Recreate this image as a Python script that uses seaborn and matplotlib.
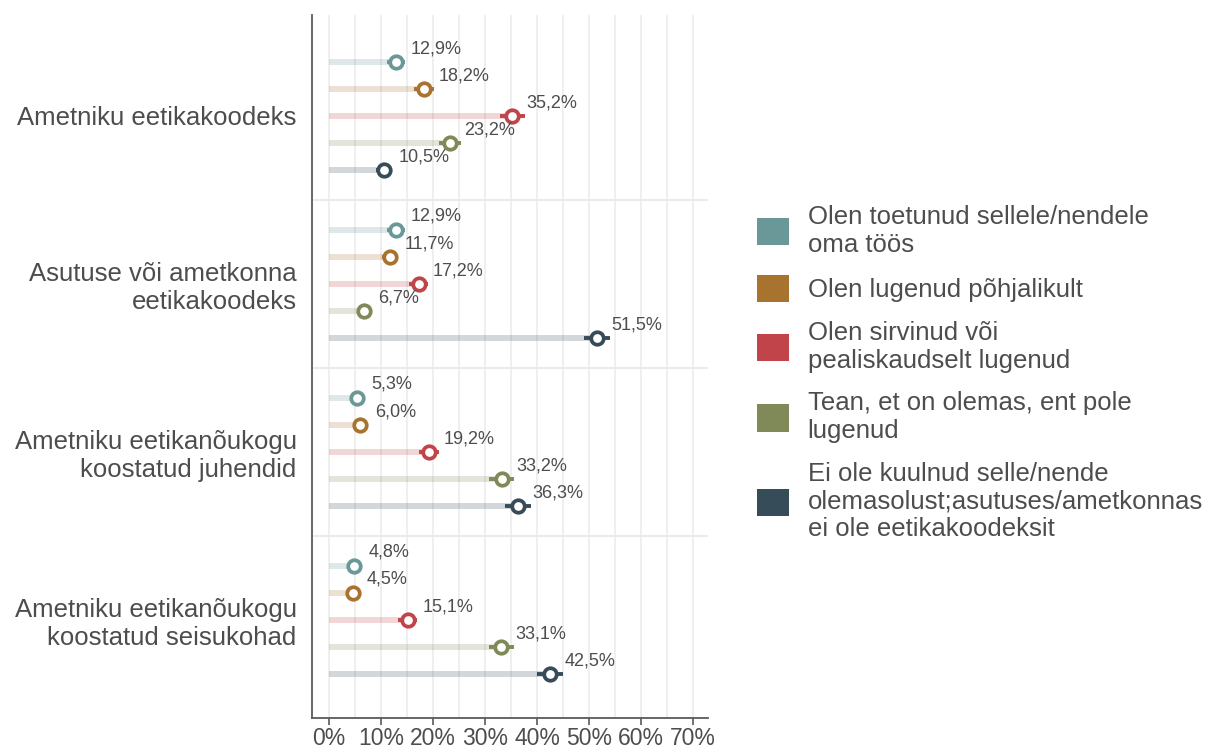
import matplotlib
matplotlib.use("Agg")
import matplotlib.pyplot as plt
import numpy as np
import pandas as pd
import seaborn as sns
from matplotlib.patches import Patch
from matplotlib.ticker import MultipleLocator, FuncFormatter

# Documents asked about
categories = [
    "Ametniku eetikakoodeks",
    "Asutuse või ametkonna\neetikakoodeks",
    "Ametniku eetikanõukogu\nkoostatud juhendid",
    "Ametniku eetikanõukogu\nkoostatud seisukohad",
]

# Answer options (legend entries)
series = [
    "Olen toetunud sellele/nendele\noma töös",
    "Olen lugenud põhjalikult",
    "Olen sirvinud või\npealiskaudselt lugenud",
    "Tean, et on olemas, ent pole\nlugenud",
    "Ei ole kuulnud selle/nende\nolemasolust;asutuses/ametkonnas\nei ole eetikakoodeksit",
]
colors = ["#6a9797", "#a8722f", "#c0444a", "#7f8a58", "#374c59"]

# Shares (%) per document, one list per answer option
toetunud = [12.9, 12.9, 5.3, 4.8]
lugenud = [18.2, 11.7, 6.0, 4.5]
sirvinud = [35.2, 17.2, 19.2, 15.1]
tean = [23.2, 6.7, 33.2, 33.1]
ei_kuulnud = [10.5, 51.5, 36.3, 42.5]

# Half-width of the 95% confidence interval (percentage points)
ci_toetunud = [1.7, 1.7, 1.15, 1.1]
ci_lugenud = [1.95, 1.6, 1.2, 1.05]
ci_sirvinud = [2.4, 1.9, 2.0, 1.8]
ci_tean = [2.1, 1.25, 2.4, 2.4]
ci_ei_kuulnud = [1.55, 2.5, 2.45, 2.5]

values = [toetunud, lugenud, sirvinud, tean, ei_kuulnud]
cis = [ci_toetunud, ci_lugenud, ci_sirvinud, ci_tean, ci_ei_kuulnud]

rows = []
for s, vals, errs in zip(series, values, cis):
    for c, v, e in zip(categories, vals, errs):
        rows.append({"category": c, "series": s, "value": v, "ci": e})
df = pd.DataFrame(rows)

sns.set_theme(style="white")
plt.rcParams["font.family"] = ["Liberation Sans", "DejaVu Sans"]
text_col = "#4d4d4d"

fig = plt.figure(figsize=(12.12, 7.49), dpi=100)
ax = fig.add_axes([312 / 1212, 31 / 749, (708 - 312) / 1212, (718 - 15) / 749])

group_width = 0.805
sns.barplot(
    data=df, x="value", y="category", hue="series",
    order=categories, hue_order=series, palette=colors,
    orient="h", dodge=True, width=group_width, errorbar=None,
    saturation=1, alpha=0.22, legend=False, ax=ax,
)

# Thin the bars down to faint stems and put the point markers on them
stem = 0.036
for cont, col, s in zip(ax.containers, colors, series):
    sub = df[df["series"] == s].set_index("category")
    for bar in cont:
        yc = bar.get_y() + bar.get_height() / 2
        bar.set_height(stem)
        bar.set_y(yc - stem / 2)
        bar.set_linewidth(0)
        cat = categories[int(round(yc))]
        v = sub.loc[cat, "value"]
        e = sub.loc[cat, "ci"]
        ax.errorbar(
            v, yc, xerr=e, fmt="o", color=col, mfc="white", mec=col,
            ms=9, mew=2.7, elinewidth=2.8, capsize=0, zorder=4,
        )
        ax.annotate(
            f"{v:.1f}%".replace(".", ","), xy=(v, yc), xytext=(10.5, 9.5),
            textcoords="offset points", ha="left", va="center",
            fontsize=13, color=text_col, zorder=5,
        )

# Separators between the document groups
for yb in [0.5, 1.5, 2.5]:
    ax.axhline(yb, color="#e6e6e6", lw=1.2, zorder=0)

ax.set_xlim(-3.3, 72.9)
ax.set_ylim(3.585, -0.6)
ax.xaxis.set_major_locator(MultipleLocator(10))
ax.xaxis.set_minor_locator(MultipleLocator(5))
ax.xaxis.set_major_formatter(FuncFormatter(lambda x, _: f"{x:.0f}%"))
ax.grid(axis="x", which="both", color="#ebebeb", lw=1.1, zorder=0)
ax.grid(axis="y", visible=False)
ax.set_axisbelow(True)

ax.set_xlabel("")
ax.set_ylabel("")
for side in ["top", "right"]:
    ax.spines[side].set_visible(False)
for side in ["left", "bottom"]:
    ax.spines[side].set_color("#5a5a5a")
    ax.spines[side].set_linewidth(1.3)

ax.tick_params(axis="x", which="major", bottom=True, length=5, width=1.2,
               color="#5a5a5a", labelsize=16.5, labelcolor=text_col, pad=1.5)
ax.tick_params(axis="x", which="minor", bottom=False)
ax.tick_params(axis="y", left=False, length=0, labelsize=18.5,
               labelcolor=text_col, pad=11)
for lab in ax.get_yticklabels():
    lab.set_horizontalalignment("right")
    lab.set_multialignment("right")

handles = [Patch(facecolor=c, edgecolor="none") for c in colors]
fig.legend(
    handles, series, loc="center left", bbox_to_anchor=(757 / 1212, 0.502),
    frameon=False, fontsize=18.5, labelcolor=text_col,
    handlelength=1.25, handleheight=1.25, handletextpad=0.72,
    labelspacing=0.72, borderpad=0, borderaxespad=0,
)

fig.savefig("out.png", dpi=100)
